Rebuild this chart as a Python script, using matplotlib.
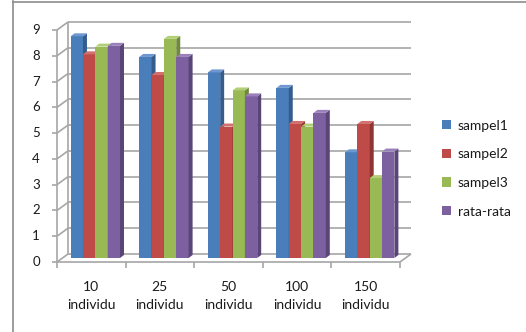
import matplotlib.pyplot as plt
from matplotlib.patches import Polygon

plt.rcParams['font.family'] = ['Lato', 'DejaVu Sans']

categories = ['10\nindividu', '25\nindividu', '50\nindividu', '100\nindividu', '150\nindividu']
sampel1 = [8.6, 7.8, 7.2, 6.6, 4.1]
sampel2 = [7.9, 7.1, 5.1, 5.2, 5.2]
sampel3 = [8.2, 8.5, 6.5, 5.1, 3.1]
rata_rata = [8.23, 7.8, 6.27, 5.63, 4.13]
series = [('sampel1', sampel1), ('sampel2', sampel2), ('sampel3', sampel3), ('rata-rata', rata_rata)]

front = ['#4a7ebb', '#be4b48', '#98b954', '#7d60a0']
top = ['#6f97cf', '#d2706d', '#b2cf78', '#9b81bb']
side = ['#345d8e', '#8e3533', '#6f8a3b', '#5a4577']

W, H = 526, 332
fig = plt.figure(figsize=(W / 100, H / 100), dpi=100)
ax = fig.add_axes([57 / W, 70 / H, 343 / W, 232 / H])
ax.set_xlim(0, 5)
ax.set_ylim(0, 9)
ax.axis('off')

# pixel -> data unit helpers
px = 5 / 343
py = 9 / 232
wx, wy = 11 * px, 8 * py      # wall depth
ox, oy = 4 * px, 4 * py       # bars sit a bit behind the front plane
dx, dy = 4 * px, 3 * py       # bar depth
grid_c = '#a6a6a6'
text_c = '#1a1a1a'

def line(xs, ys, **kw):
    ax.plot(xs, ys, color=grid_c, lw=1.2, clip_on=False, solid_capstyle='butt', **kw)

for v in range(10):
    line([0, wx], [v, v + wy])
    line([wx, 5 + wx], [v + wy, v + wy])
    line([-5 * px, 0], [v, v])
    ax.text(-17 * px, v, str(v), ha='right', va='center', fontsize=9.5, color=text_c)
line([0, 0], [0, 9])
line([wx, wx], [wy, 9 + wy])
line([0, 5], [0, 0])
line([5, 5 + wx], [0, wy])
for i in range(6):
    line([i, i], [0, -6 * py])
for i, c in enumerate(categories):
    ax.text(i + 0.5, -19 * py, c, ha='center', va='top', fontsize=10,
            linespacing=1.6, color=text_c)

bw = 0.18
handles = []
for j, (name, vals) in enumerate(series):
    xs = [i + 0.5 + (j - 1.5) * bw + ox for i in range(5)]
    bars = ax.bar(xs, vals, width=bw, bottom=oy, color=front[j], label=name,
                  clip_on=False, zorder=3 + j)
    handles.append(bars)
    for x, v in zip(xs, vals):
        l, r, t = x - bw / 2, x + bw / 2, v + oy
        ax.add_patch(Polygon([(r, oy), (r, t), (r + dx, t + dy), (r + dx, oy + dy)],
                             closed=True, fc=side[j], ec='none', clip_on=False, zorder=3 + j))
        ax.add_patch(Polygon([(l, t), (r, t), (r + dx, t + dy), (l + dx, t + dy)],
                             closed=True, fc=top[j], ec='none', clip_on=False, zorder=3 + j))

fig.legend(handles=handles, loc='upper left', bbox_to_anchor=(436 / W, 1 - 114 / H),
           frameon=False, fontsize=10, handlelength=0.65, handleheight=0.65,
           handletextpad=0.5, labelspacing=1.2, borderaxespad=0, labelcolor=text_c)

# chart area border
fig.add_artist(plt.Line2D([13 / W, 13 / W], [0, 1 - 1 / H], color='#8c8c8c', lw=1.2))
fig.add_artist(plt.Line2D([13 / W, 1], [1 - 1.5 / H, 1 - 1.5 / H], color='#8c8c8c', lw=1.2))

fig.savefig('out.png', dpi=100)
